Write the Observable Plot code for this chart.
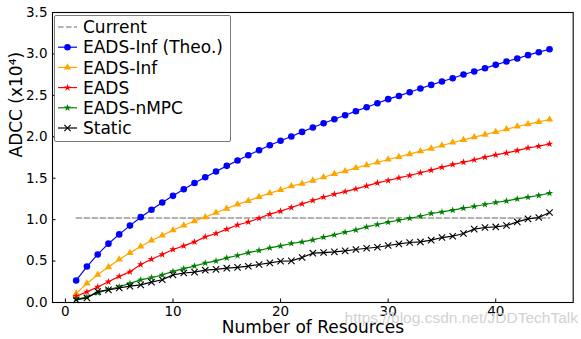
<!DOCTYPE html>
<html><head><meta charset="utf-8">
<script src="https://cdn.jsdelivr.net/npm/d3@7"></script>
<script src="https://cdn.jsdelivr.net/npm/@observablehq/plot@0.6"></script>
<style>
body{margin:0;background:#fff;}
#chart{width:581px;height:339px;}
</style></head><body><div id="chart"></div>
<script>
// ---- data ----
const resources = [1,2,3,4,5,6,7,8,9,10,11,12,13,14,15,16,17,18,19,20,21,22,23,24,25,26,27,28,29,30,31,32,33,34,35,36,37,38,39,40,41,42,43,44,45];
const currentValue = 1.02;
const eadsInfTheo = [0.266,0.434,0.58,0.71,0.822,0.928,1.03,1.12,1.207,1.287,1.367,1.443,1.512,1.581,1.649,1.714,1.778,1.838,1.898,1.952,2.003,2.059,2.112,2.164,2.212,2.26,2.309,2.357,2.405,2.454,2.493,2.538,2.583,2.626,2.667,2.707,2.752,2.788,2.828,2.868,2.908,2.945,2.985,3.021,3.057];
const eadsInf = [0.11,0.23,0.335,0.428,0.52,0.599,0.676,0.748,0.81,0.873,0.93,0.983,1.03,1.083,1.134,1.184,1.226,1.275,1.32,1.358,1.404,1.435,1.472,1.512,1.552,1.585,1.625,1.657,1.69,1.726,1.757,1.79,1.826,1.858,1.895,1.931,1.962,1.995,2.027,2.059,2.091,2.124,2.152,2.18,2.209];
const eads = [0.075,0.128,0.188,0.25,0.315,0.37,0.458,0.522,0.579,0.64,0.683,0.731,0.792,0.833,0.885,0.935,0.972,1.017,1.066,1.102,1.146,1.19,1.231,1.272,1.307,1.338,1.371,1.407,1.443,1.472,1.504,1.533,1.566,1.597,1.633,1.665,1.693,1.721,1.754,1.781,1.805,1.834,1.866,1.886,1.914];
const eadsNmpc = [0.04,0.066,0.116,0.157,0.19,0.231,0.273,0.3,0.332,0.376,0.408,0.44,0.476,0.502,0.538,0.567,0.601,0.628,0.659,0.683,0.712,0.731,0.755,0.788,0.816,0.848,0.876,0.912,0.941,0.969,0.993,1.017,1.041,1.074,1.093,1.114,1.138,1.159,1.183,1.207,1.226,1.25,1.271,1.291,1.319];
const staticVals = [0.032,0.056,0.132,0.152,0.175,0.197,0.213,0.245,0.275,0.333,0.356,0.366,0.39,0.4,0.414,0.424,0.438,0.459,0.478,0.498,0.502,0.543,0.595,0.603,0.611,0.623,0.64,0.655,0.667,0.688,0.707,0.724,0.731,0.752,0.784,0.8,0.833,0.885,0.905,0.912,0.929,0.973,1.009,1.026,1.086];
const seriesNames = ["Current","EADS-Inf (Theo.)","EADS-Inf","EADS","EADS-nMPC","Static"];
const xTicks = [0,10,20,30,40];
const yTicks = [0,0.5,1,1.5,2,2.5,3,3.5];
const xLabel = "Number of Resources";
const yLabel = "ADCC (x10⁴)";
const watermark = "https://blog.csdn.net/JDDTechTalk";

// ---- styles ----
const styles = [
  {color:"#999999", symbol:null, r:0, dash:"5.5,2.5"},
  {color:"#0000ff", symbol:"circle", r:3.3},
  {color:"#ffa500", symbol:"triangle", r:2.7},
  {color:"#ff0000", symbol:"star", r:2.3},
  {color:"#008000", symbol:"star", r:2.3},
  {color:"#000000", symbol:"times", r:3}
];
const valuesList = [resources.map(() => currentValue), eadsInfTheo, eadsInf, eads, eadsNmpc, staticVals];
const series = seriesNames.map((name, k) => ({name, ...styles[k], rows: valuesList[k].map((v, i) => ({x: resources[i], y: v}))}));

const W = 581, H = 339, mL = 52, mR = 8.3, mT = 12, mB = 37;
const frameW = W - mL - mR, frameH = H - mT - mB;
const font = "DejaVu Sans";

const marks = [];
for (const s of series) {
  marks.push(Plot.line(s.rows, {x:"x", y:"y", stroke:s.color, strokeWidth: s.dash ? 1.3 : 1.2, strokeDasharray: s.dash || null}));
  if (s.symbol === "times") {
    marks.push(Plot.dot(s.rows, {x:"x", y:"y", symbol:"times", r:s.r, stroke:s.color, strokeWidth:1.1, fill:"none"}));
  } else if (s.symbol) {
    marks.push(Plot.dot(s.rows, {x:"x", y:"y", symbol:s.symbol, r:s.r, fill:s.color, stroke:"none"}));
  }
}

const chart = Plot.plot({
  width: W, height: H,
  marginLeft: mL, marginRight: mR, marginTop: mT, marginBottom: mB,
  style: {fontFamily: font, background: "white", color: "black"},
  x: {domain: [-1.2, 47.2]},
  y: {domain: [0, 3.5]},
  marks: [
    ...marks,
    Plot.tickX(xTicks, {x: d => d, insetTop: frameH - 3.5, stroke: "black", strokeWidth: 1}),
    Plot.tickY(yTicks, {y: d => d, insetRight: frameW - 3.5, stroke: "black", strokeWidth: 1}),
    Plot.frame({stroke: "black", strokeWidth: 1.1}),
    Plot.axisX({ticks: xTicks, tickSize: 0, tickPadding: 4, fontSize: 13.5, label: null}),
    Plot.axisY({ticks: yTicks, tickSize: 0, tickPadding: 5, fontSize: 13.5, tickFormat: d3.format(".1f"), label: null}),
    Plot.text([xLabel], {text: d => d, frameAnchor: "bottom", dy: 25, fontSize: 17, lineAnchor: "middle"}),
    Plot.text([yLabel], {text: d => d, frameAnchor: "left", dx: -36, rotate: -90, fontSize: 17, lineAnchor: "middle"})
  ]
});

// ---- legend (inside the axes, upper left) ----
const svg = d3.select(chart);
const lg = svg.append("g").attr("font-family", font).attr("font-size", 17).attr("text-anchor", "start");
lg.append("rect").attr("x", 54.5).attr("y", 15.5).attr("width", 176).attr("height", 126).attr("rx", 1.5)
  .attr("fill", "white").attr("stroke", "#7a7a7a").attr("stroke-width", 1);
const symMap = {circle: d3.symbolCircle, triangle: d3.symbolTriangle, star: d3.symbolStar, times: d3.symbolTimes};
series.forEach((s, i) => {
  const y = 27 + i * 20.2;
  lg.append("line").attr("x1", 58).attr("x2", 77).attr("y1", y).attr("y2", y)
    .attr("stroke", s.color).attr("stroke-width", s.dash ? 1.3 : 1.2).attr("stroke-dasharray", s.dash || null);
  if (s.symbol) {
    const p = lg.append("path").attr("transform", `translate(67.5,${y})`)
      .attr("d", d3.symbol(symMap[s.symbol], Math.PI * s.r * s.r)());
    if (s.symbol === "times") p.attr("fill", "none").attr("stroke", s.color).attr("stroke-width", 1.1);
    else p.attr("fill", s.color);
  }
  lg.append("text").attr("x", 83).attr("y", y).attr("dy", "0.36em").attr("text-anchor", "start").attr("fill", "black").text(s.name);
});

// watermark
svg.append("text").attr("x", 578).attr("y", 323).attr("text-anchor", "end")
  .attr("font-family", "Liberation Sans").attr("font-size", 15.5).attr("fill", "#d2d2d2").text(watermark);

document.getElementById("chart").appendChild(chart);
</script>
</body></html>
